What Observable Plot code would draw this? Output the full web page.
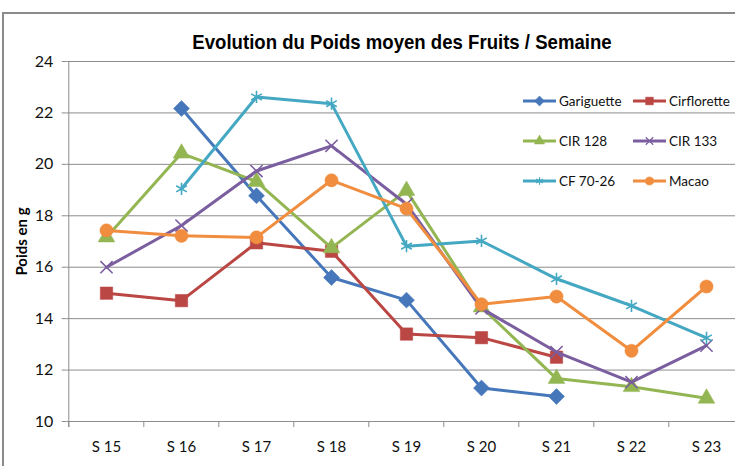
<!DOCTYPE html>
<html>
<head>
<meta charset="utf-8">
<script src="https://cdn.jsdelivr.net/npm/d3@7"></script>
<script src="https://cdn.jsdelivr.net/npm/@observablehq/plot@0.6"></script>
<style>
  html, body { margin: 0; padding: 0; background: #fff; }
  #wrap { position: relative; width: 735px; height: 466px; overflow: hidden; background: #fff; }
  #border { position: absolute; left: 2px; top: 12px; width: 760px; height: 520px; border: 2px solid #8a8a8a; box-sizing: border-box; }
  #title { position: absolute; left: 0; width: 804px; top: 30px; text-align: center; font-family: "Liberation Sans", Arial, sans-serif; font-weight: bold; font-size: 21px; color: #000; transform: scaleX(0.885); transform-origin: 402px 50%; white-space: nowrap; }
  #chart { position: absolute; left: 0; top: 0; }
  #legend { position: absolute; left: 0; top: 0; }
</style>
</head>
<body>
<div id="wrap">
  <div id="border"></div>
  <div id="chart"></div>
  <div id="title">Evolution du Poids moyen des Fruits / Semaine</div>
  <svg id="legend" width="735" height="466"></svg>
</div>
<script>
// ---- data ----
const weeks = ["S 15", "S 16", "S 17", "S 18", "S 19", "S 20", "S 21", "S 22", "S 23"];
const seriesNames = ["Gariguette", "Cirflorette", "CIR 128", "CIR 133", "CF 70-26", "Macao"];
const gariguette = [null, 22.17, 18.78, 15.6, 14.72, 11.3, 10.97, null, null];
const cirflorette = [14.99, 14.7, 16.95, 16.62, 13.4, 13.26, 12.5, null, null];
const cir128 = [17.17, 20.43, 19.33, 16.75, 18.98, 14.45, 11.67, 11.35, 10.9];
const cir133 = [16.0, 17.62, 19.74, 20.72, 18.45, 14.4, 12.7, 11.53, 12.95];
const cf7026 = [null, 19.05, 22.62, 22.36, 16.82, 17.02, 15.55, 14.5, 13.25];
const macao = [17.43, 17.22, 17.16, 19.38, 18.28, 14.56, 14.86, 12.75, 15.25];
const yTicks = [10, 12, 14, 16, 18, 20, 22, 24];

const seriesValues = [gariguette, cirflorette, cir128, cir133, cf7026, macao];
const colors = ["#4677BA", "#BA4744", "#93B652", "#7B5E9F", "#45A8C3", "#F08D3E"];
const symbols = ["diamond2", "square", "triangle", "times", "asterisk", "circle"];
const radii = [7.2, 7.0, 6.2, 5.6, 5.8, 6.6];
const strokeSymbols = new Set(["times", "asterisk"]);

const rows = [];
seriesNames.forEach((name, si) => {
  seriesValues[si].forEach((v, wi) => rows.push({series: name, week: weeks[wi], value: v}));
});

const font = 'Lato, "Open Sans", sans-serif';
const grid = "#8c8c8c";
const step = 75.4;

const marks = [
  Plot.ruleY(yTicks, {stroke: grid, strokeWidth: 1}),
  Plot.ruleX([weeks[0]], {dx: -step / 2, y1: 24, y2: 10, insetBottom: -6, stroke: grid, strokeWidth: 1}),
  Plot.ruleX(weeks, {dx: -step / 2, y1: 10, y2: 10, insetBottom: -6, stroke: grid, strokeWidth: 1}),
  Plot.axisY({ticks: yTicks, tickSize: 5, tickPadding: 9, stroke: grid, color: "#111", fontSize: 16, fontFamily: font, label: null, tickFormat: d => String(d)}),
  Plot.axisX({tickSize: 0, tickPadding: 20, color: "#111", fontSize: 15, fontFamily: font, label: null}),
  Plot.text(["Poids en g"], {frameAnchor: "left", textAnchor: "middle", y: 17, dx: -45, rotate: -90, fontWeight: "bold", fontSize: 15, fontFamily: font, fill: "#000"})
];

seriesNames.forEach((name, si) => {
  const data = rows.filter(d => d.series === name);
  marks.push(Plot.lineY(data, {x: "week", y: "value", stroke: colors[si], strokeWidth: 3, strokeLinejoin: "round"}));
  const isStroke = strokeSymbols.has(symbols[si]);
  marks.push(Plot.dot(data.filter(d => d.value != null), {
    x: "week", y: "value", symbol: symbols[si], r: radii[si],
    fill: isStroke ? "none" : colors[si],
    stroke: colors[si], strokeWidth: isStroke ? 1.6 : 0.5
  }));
});

const chart = Plot.plot({
  width: 735,
  height: 466,
  marginTop: 61,
  marginBottom: 45,
  marginLeft: 66.7,
  marginRight: 0,
  style: {background: "transparent", fontFamily: font},
  x: {type: "point", domain: weeks, range: [104.4, 707.6], padding: 0, axis: null},
  y: {domain: [10, 24], axis: null},
  marks
});
document.getElementById("chart").appendChild(chart);

// ---- legend ----
const legend = d3.select("#legend");
const cols = [523, 633];
const rowY = [101, 141, 181];
const symMap = {diamond2: d3.symbolDiamond2, square: d3.symbolSquare, triangle: d3.symbolTriangle, times: d3.symbolTimes, asterisk: d3.symbolAsterisk, circle: d3.symbolCircle};
seriesNames.forEach((name, si) => {
  const x0 = cols[si % 2];
  const y0 = rowY[Math.floor(si / 2)];
  const g = legend.append("g");
  g.append("line").attr("x1", x0).attr("x2", x0 + 33).attr("y1", y0).attr("y2", y0)
    .attr("stroke", colors[si]).attr("stroke-width", 3);
  const isStroke = strokeSymbols.has(symbols[si]);
  const rr = radii[si] * 0.62;
  g.append("path").attr("d", d3.symbol(symMap[symbols[si]], rr * rr * Math.PI)())
    .attr("transform", `translate(${x0 + 16.5},${y0})`)
    .attr("fill", isStroke ? "none" : colors[si])
    .attr("stroke", colors[si]).attr("stroke-width", isStroke ? 1.2 : 0.5);
  g.append("text").attr("x", x0 + 36).attr("y", y0).attr("dy", "0.35em")
    .attr("font-family", font).attr("font-size", 13.5).attr("fill", "#111").text(name);
});
</script>
</body>
</html>
